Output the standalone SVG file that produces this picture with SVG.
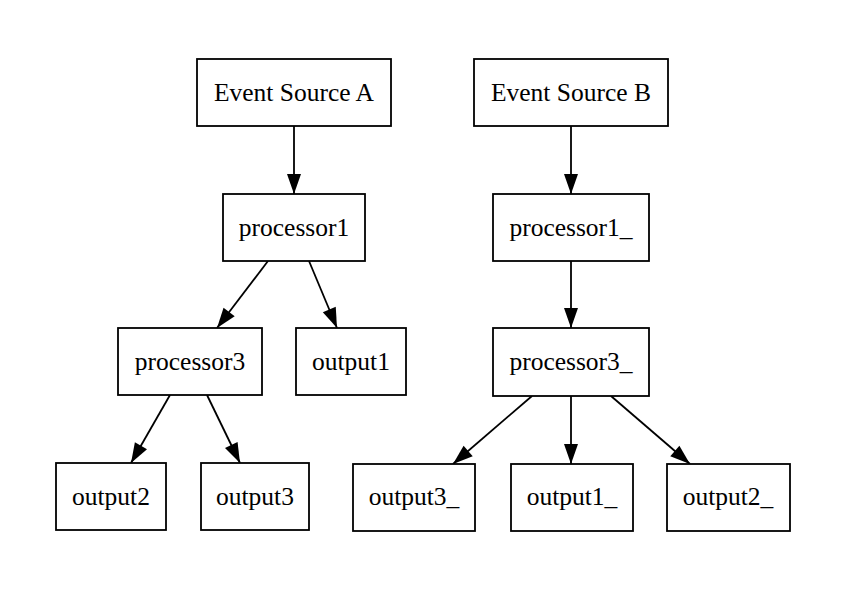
<svg xmlns="http://www.w3.org/2000/svg" width="859" height="611" viewBox="0 0 859 611">
<defs>
<style>
.n rect{fill:#fff;stroke:#000;stroke-width:1.8}
.n text{font-family:"Liberation Serif","Times New Roman",serif;font-size:25.5px;text-anchor:middle;fill:#000}
#edges line{stroke:#000;stroke-width:1.8}
</style>
<marker id="ah" markerWidth="20" markerHeight="15" refX="20" refY="7.5" orient="auto" markerUnits="userSpaceOnUse" overflow="visible">
<path d="M0,0.5 L20,7.5 L0,14.5 Z" fill="#000"/>
</marker>
</defs>
<rect width="859" height="611" fill="#fff"/>
<g id="edges">
<line x1="294" y1="126" x2="294" y2="194" marker-end="url(#ah)"/>
<line x1="268" y1="261" x2="217" y2="328" marker-end="url(#ah)"/>
<line x1="309" y1="261" x2="337" y2="328" marker-end="url(#ah)"/>
<line x1="170" y1="395" x2="131" y2="463" marker-end="url(#ah)"/>
<line x1="207" y1="395" x2="240" y2="463" marker-end="url(#ah)"/>
<line x1="571" y1="126" x2="571" y2="194" marker-end="url(#ah)"/>
<line x1="571" y1="261" x2="571" y2="328" marker-end="url(#ah)"/>
<line x1="532" y1="396" x2="453" y2="464" marker-end="url(#ah)"/>
<line x1="571" y1="396" x2="571" y2="464" marker-end="url(#ah)"/>
<line x1="611" y1="396" x2="690" y2="464" marker-end="url(#ah)"/>
</g>
<g id="srcA" class="n"><rect x="197" y="59" width="194" height="67"/><text x="294" y="101">Event Source A</text></g>
<g id="srcB" class="n"><rect x="474" y="59" width="194" height="67"/><text x="571" y="101">Event Source B</text></g>
<g id="processor1" class="n"><rect x="223" y="194" width="142" height="67"/><text x="294" y="236">processor1</text></g>
<g id="processor1_" class="n"><rect x="493" y="194" width="156" height="67"/><text x="571" y="236">processor1_</text></g>
<g id="processor3" class="n"><rect x="118" y="328" width="144" height="67"/><text x="190" y="370">processor3</text></g>
<g id="output1" class="n"><rect x="296" y="328" width="110" height="67"/><text x="351" y="370">output1</text></g>
<g id="processor3_" class="n"><rect x="493" y="328" width="156" height="68"/><text x="571" y="370">processor3_</text></g>
<g id="output2" class="n"><rect x="56" y="463" width="110" height="67"/><text x="111" y="505">output2</text></g>
<g id="output3" class="n"><rect x="201" y="463" width="108" height="67"/><text x="255" y="505">output3</text></g>
<g id="output3_" class="n"><rect x="353" y="464" width="122" height="67"/><text x="414" y="505">output3_</text></g>
<g id="output1_" class="n"><rect x="511" y="464" width="122" height="67"/><text x="572" y="505">output1_</text></g>
<g id="output2_" class="n"><rect x="667" y="464" width="123" height="67"/><text x="728" y="505">output2_</text></g>
</svg>
